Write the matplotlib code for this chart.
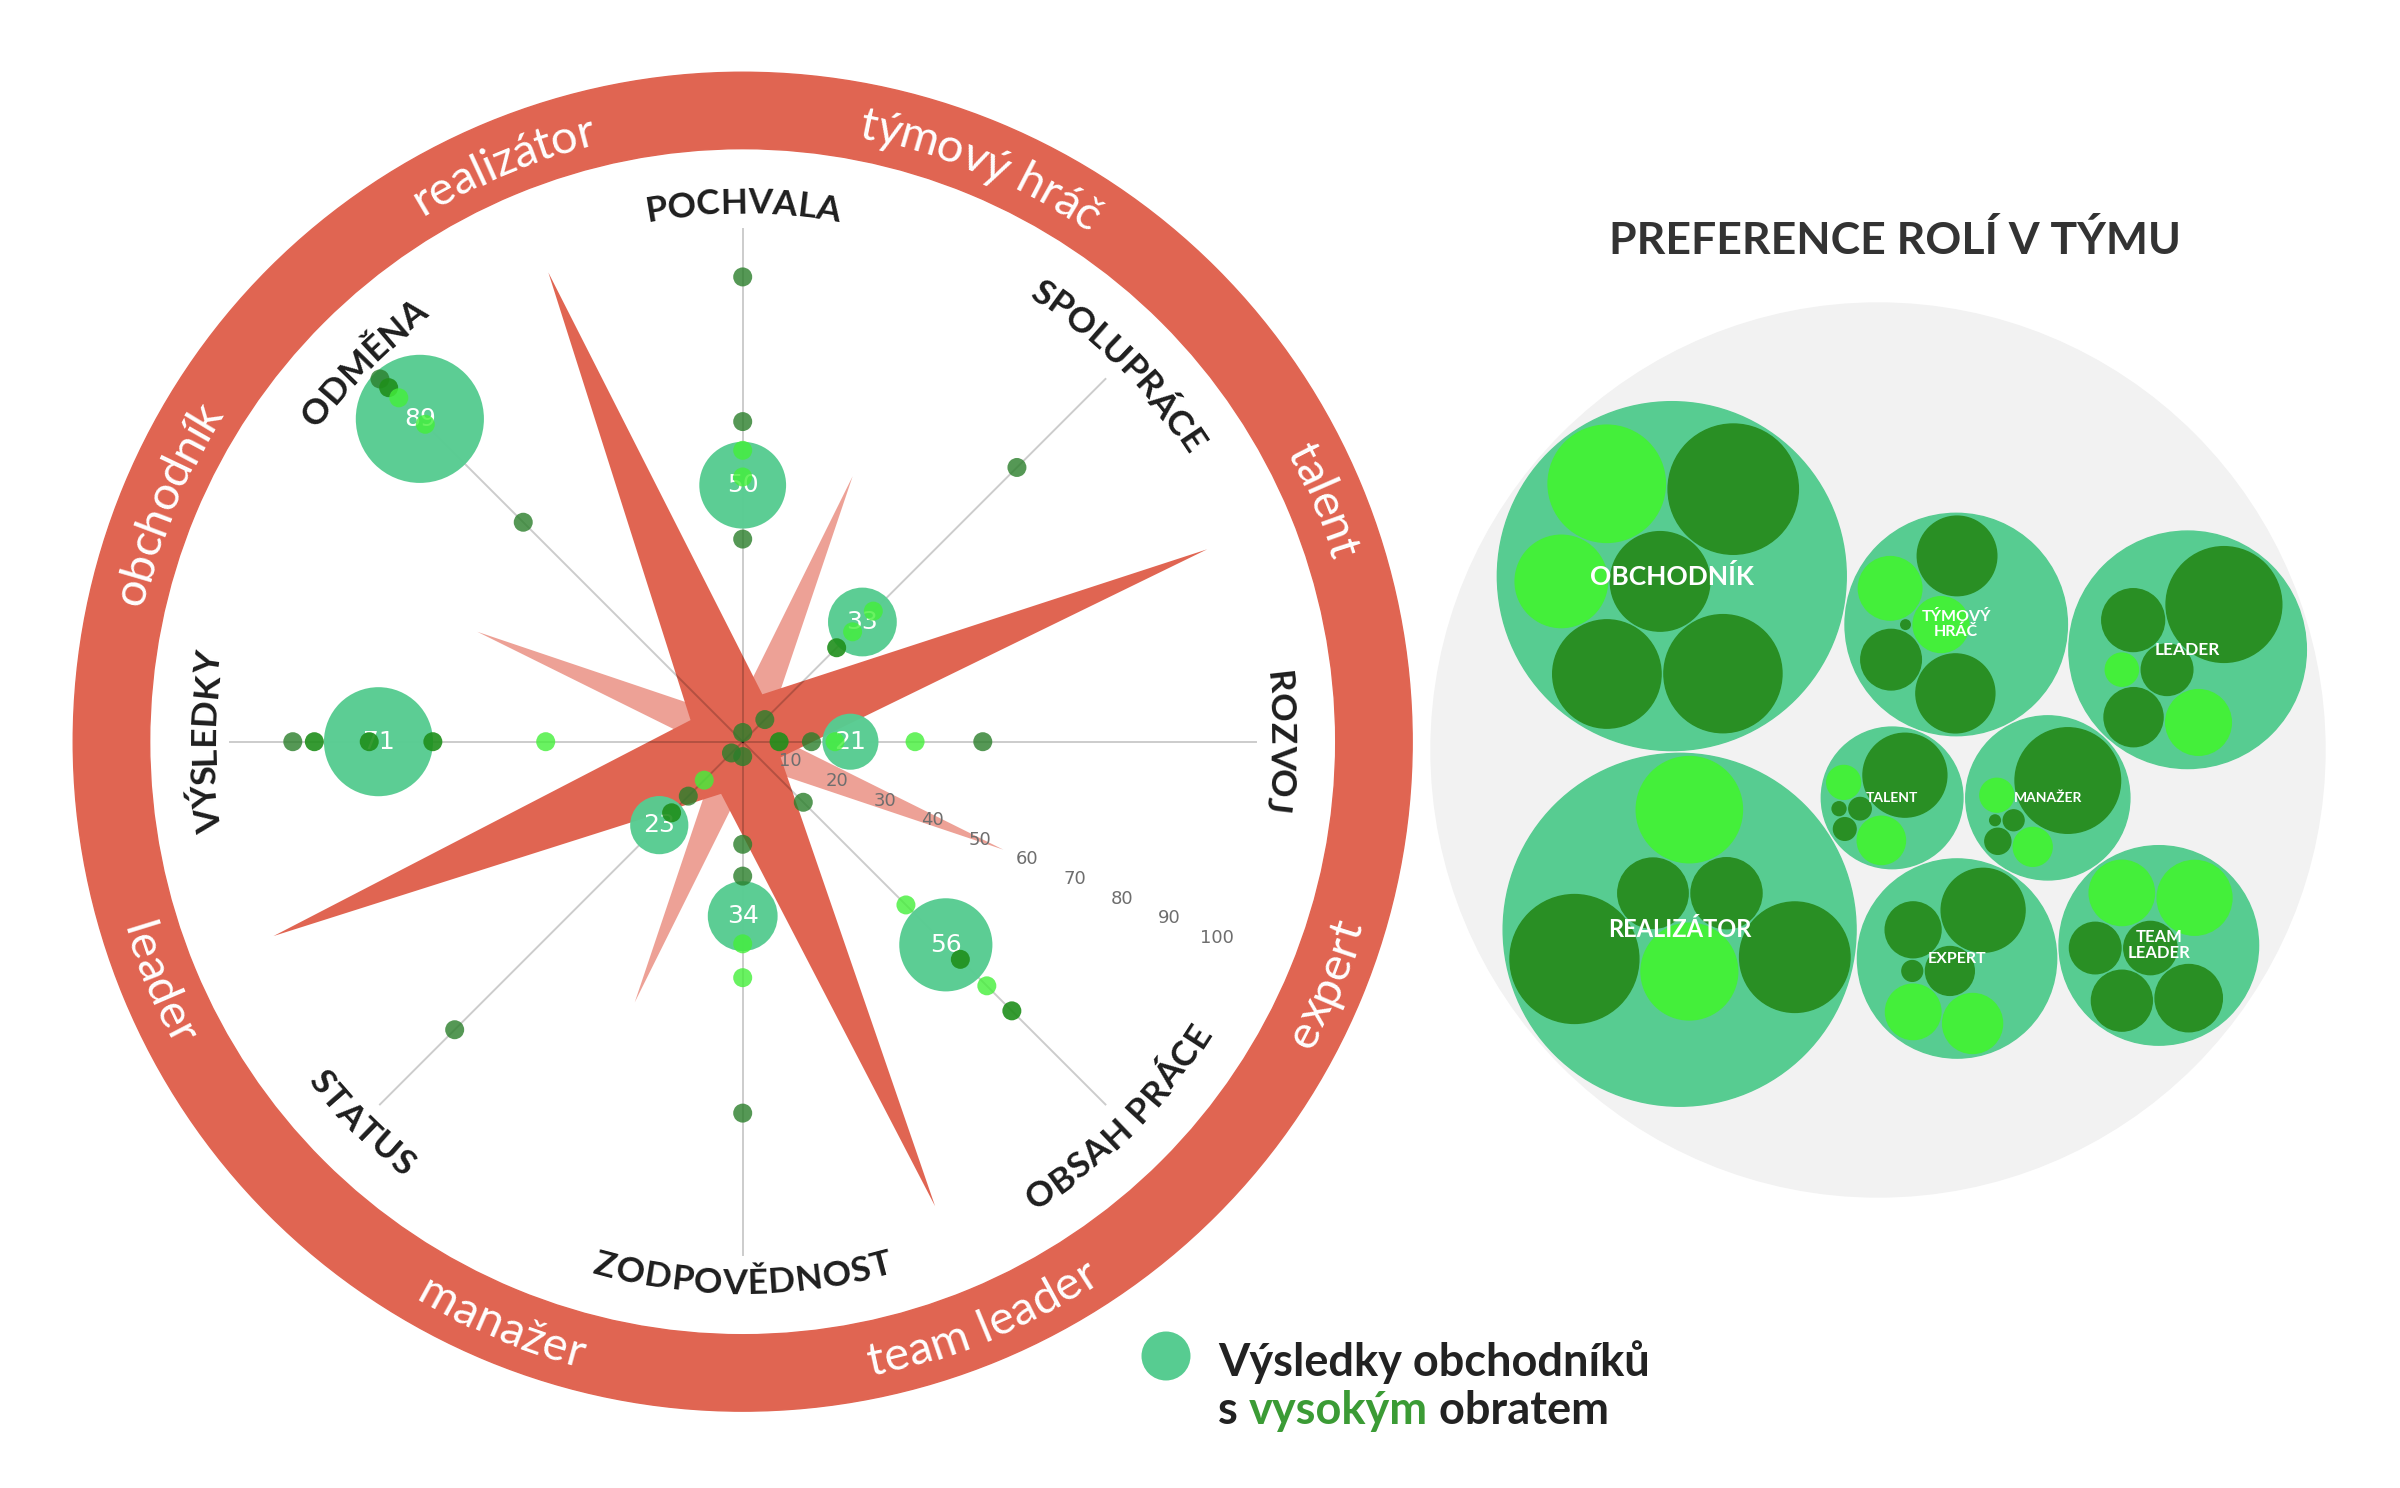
import numpy as np
import matplotlib
matplotlib.use('Agg')
import matplotlib.pyplot as plt
from matplotlib.patches import Circle, Wedge, Polygon
from matplotlib.font_manager import FontProperties, findfont
from matplotlib.ft2font import FT2Font, LOAD_NO_HINTING

FONT = ['Lato', 'DejaVu Sans']
plt.rcParams['font.family'] = FONT

# radar: 8 motivation axes, clockwise from the top
AXES = ['POCHVALA', 'SPOLUPRÁCE', 'ROZVOJ', 'OBSAH PRÁCE',
        'ZODPOVĚDNOST', 'STATUS', 'VÝSLEDKY', 'ODMĚNA']
HIGH_TURNOVER = [50, 33, 21, 56, 34, 23, 71, 89]
DOTS_MUTED = [[1.8, 39.5, 62.4, 90.6], [6.1, 75.6], [13.4, 46.8], [16.7],
              [2.9, 20, 26.2, 72.4], [3.1, 15, 79.4], [87.7], [60.5, 100]]
DOTS_DARK = [[], [25.9], [7.1], [60, 74.2], [], [19.6], [83.5, 72.8, 60.4], [97.6]]
DOTS_BRIGHT = [[51.6, 56.8], [30.3, 36], [18, 33.6], [45, 67.3],
               [39.4, 46], [10.6], [38.4], [94.8, 87.5]]
R_TICKS = [10, 20, 30, 40, 50, 60, 70, 80, 90, 100]

# team roles, sitting between the axes
ROLES = ['realizátor', 'týmový hráč', 'talent', 'expert',
         'team leader', 'manažer', 'leader', 'obchodník']
ROLE_MAIN = [99, 10, 98, 8, 98, 11, 99, 11]
ROLE_SECOND = [5, 56, 5, 55, 5, 55, 5, 56]

# circle packing: role groups, leaf sizes and tone (d = dark, b = bright)
GROUP_NAMES = ['REALIZÁTOR', 'TÝMOVÝ\nHRÁČ', 'TALENT', 'EXPERT',
               'TEAM\nLEADER', 'MANAŽER', 'LEADER', 'OBCHODNÍK']
LEAF_VALUES = [[54, 55, 102, 123, 133, 181],
               [1, 34, 40, 44, 68, 69],
               [2.1, 5.5, 5.6, 12.5, 25.4, 76.7],
               [4.7, 26, 33.5, 34, 39.2, 76.7],
               [28.9, 30.9, 40.4, 46.5, 49.3, 61],
               [1.25, 4.75, 7.4, 12.5, 16.5, 121.4],
               [12, 29, 38, 43, 47, 146],
               [93, 108, 128, 150, 152, 185]]
LEAF_TONES = [['d', 'd', 'b', 'b', 'd', 'd'],
              ['d', 'b', 'd', 'b', 'd', 'd'],
              ['d', 'd', 'd', 'b', 'b', 'd'],
              ['d', 'd', 'b', 'd', 'b', 'd'],
              ['d', 'd', 'd', 'b', 'd', 'b'],
              ['d', 'd', 'd', 'b', 'b', 'd'],
              ['b', 'd', 'd', 'd', 'b', 'd'],
              ['b', 'd', 'd', 'b', 'd', 'd']]
LABEL_SIZES = {'REALIZÁTOR': 17, 'TÝMOVÝ\nHRÁČ': 11.5, 'TALENT': 10, 'EXPERT': 11.5,
               'TEAM\nLEADER': 12, 'MANAŽER': 10, 'LEADER': 12.5, 'OBCHODNÍK': 19}

RED = '#E06552'
RED_LIGHT = '#EDA196'
MID_GREEN = '#57CC91'
DARK_GREEN = '#298F24'
BRIGHT_GREEN = '#44EF3A'


# ---- d3-style circle packing ----
class Node:
    def __init__(self, c):
        self.c = c
        self.next = None
        self.prev = None


def place(b, a, c):
    dx, dy = b[0] - a[0], b[1] - a[1]
    d2 = dx * dx + dy * dy
    if d2:
        a2 = (a[2] + c[2]) ** 2
        b2 = (b[2] + c[2]) ** 2
        if a2 > b2:
            x = (d2 + b2 - a2) / (2 * d2)
            y = np.sqrt(max(0, b2 / d2 - x * x))
            c[0] = b[0] - x * dx - y * dy
            c[1] = b[1] - x * dy + y * dx
        else:
            x = (d2 + a2 - b2) / (2 * d2)
            y = np.sqrt(max(0, a2 / d2 - x * x))
            c[0] = a[0] + x * dx - y * dy
            c[1] = a[1] + x * dy + y * dx
    else:
        c[0] = a[0] + c[2]
        c[1] = a[1]


def intersects(a, b):
    dr = a[2] + b[2] - 1e-6
    dx, dy = b[0] - a[0], b[1] - a[1]
    return dr > 0 and dr * dr > dx * dx + dy * dy


def score(node):
    a, b = node.c, node.next.c
    ab = a[2] + b[2]
    dx = (a[0] * b[2] + b[0] * a[2]) / ab
    dy = (a[1] * b[2] + b[1] * a[2]) / ab
    return dx * dx + dy * dy


def basis2(a, b):
    x21, y21, r21 = b[0] - a[0], b[1] - a[1], b[2] - a[2]
    l = np.hypot(x21, y21)
    return ((a[0] + b[0] + x21 / l * r21) / 2, (a[1] + b[1] + y21 / l * r21) / 2, (l + a[2] + b[2]) / 2)


def basis3(a, b, c):
    x1, y1, r1 = a
    x2, y2, r2 = b
    x3, y3, r3 = c
    a2, a3, b2, b3 = x1 - x2, x1 - x3, y1 - y2, y1 - y3
    c2, c3 = r2 - r1, r3 - r1
    d1 = x1 * x1 + y1 * y1 - r1 * r1
    d2 = d1 - x2 * x2 - y2 * y2 + r2 * r2
    d3 = d1 - x3 * x3 - y3 * y3 + r3 * r3
    ab = a3 * b2 - a2 * b3
    if abs(ab) < 1e-12:
        return None
    xa = (b2 * d3 - b3 * d2) / (ab * 2) - x1
    xb = (b3 * c2 - b2 * c3) / ab
    ya = (a3 * d2 - a2 * d3) / (ab * 2) - y1
    yb = (a2 * c3 - a3 * c2) / ab
    A = xb * xb + yb * yb - 1
    B = 2 * (r1 + xa * xb + ya * yb)
    C = xa * xa + ya * ya - r1 * r1
    disc = B * B - 4 * A * C
    if abs(A) > 1e-6:
        if disc < 0:
            return None
        r = -(B + np.sqrt(disc)) / (2 * A)
    else:
        r = -C / B
    return (x1 + xa + xb * r, y1 + ya + yb * r, r)


def encloses(e, c):
    dr = e[2] - c[2] + max(e[2], c[2], 1) * 1e-6
    return dr > 0 and dr * dr > (c[0] - e[0]) ** 2 + (c[1] - e[1]) ** 2


def enclose(circles):
    cands = []
    n = len(circles)
    for i in range(n):
        cands.append(tuple(circles[i]))
        for j in range(i + 1, n):
            cands.append(basis2(circles[i], circles[j]))
            for k in range(j + 1, n):
                b3 = basis3(circles[i], circles[j], circles[k])
                if b3 is not None and np.all(np.isfinite(b3)) and b3[2] > 0:
                    cands.append(b3)
    best = None
    for e in cands:
        if all(encloses(e, c) for c in circles) and (best is None or e[2] < best[2]):
            best = e
    return best


def pack_siblings(circles):
    n = len(circles)
    a = circles[0]
    a[0], a[1] = 0.0, 0.0
    if n == 1:
        return a[2]
    b = circles[1]
    a[0], b[0], b[1] = -b[2], a[2], 0.0
    if n == 2:
        return a[2] + b[2]
    place(b, a, circles[2])
    na, nb, nc = Node(a), Node(b), Node(circles[2])
    na.next = nc.prev = nb
    nb.next = na.prev = nc
    nc.next = nb.prev = na
    i = 3
    while i < n:
        c = circles[i]
        place(na.c, nb.c, c)
        cn = Node(c)
        j, k = nb.next, na.prev
        sj, sk = nb.c[2], na.c[2]
        retry = False
        while True:
            if sj <= sk:
                if intersects(j.c, cn.c):
                    nb = j
                    na.next, nb.prev = nb, na
                    retry = True
                    break
                sj += j.c[2]
                j = j.next
            else:
                if intersects(k.c, cn.c):
                    na = k
                    na.next, nb.prev = nb, na
                    retry = True
                    break
                sk += k.c[2]
                k = k.prev
            if j is k.next:
                break
        if retry:
            continue
        cn.prev, cn.next = na, nb
        na.next = cn
        nb.prev = cn
        nb = cn
        aa = score(na)
        node = cn
        while True:
            node = node.next
            if node is nb:
                break
            ca = score(node)
            if ca < aa:
                na, aa = node, ca
        nb = na.next
        i += 1
    e = enclose(circles)
    for c in circles:
        c[0] -= e[0]
        c[1] -= e[1]
    return e[2]


def pack_level(radii, pad):
    circles = [[0.0, 0.0, r + pad] for r in radii]
    e = pack_siblings(circles)
    for c in circles:
        c[2] -= pad
    return circles, e + pad


# ---- figure ----
W, H = 2400, 1488
fig = plt.figure(figsize=(W / 100, H / 100), dpi=100)
fig.patch.set_facecolor('white')

CX, CY = 742.7, 741.7
LIM = 134
UNIT = 5.13
half = LIM * UNIT
ax = fig.add_axes([(CX - half) / W, (H - CY - half) / H, 2 * half / W, 2 * half / H])
ax.set_xlim(-LIM, LIM)
ax.set_ylim(-LIM, LIM)
ax.set_aspect('equal')
ax.axis('off')


def advances(text, fp):
    font = FT2Font(findfont(fp))
    font.set_size(fp.get_size_in_points(), 100)
    out = []
    for ch in text:
        g = font.load_char(ord(ch), flags=LOAD_NO_HINTING)
        out.append(g.linearHoriAdvance / 65536)
    return out


def curved_text(text, ang, radius, size, weight, color, top, spacing=0.0):
    fp = FontProperties(family=FONT, size=size, weight=weight)
    em = size * 100 / 72 / UNIT
    widths = [w / UNIT + spacing * em for w in advances(text, fp)]
    total = sum(widths)
    base = radius - 0.34 * em if top else radius + 0.34 * em
    sign = -1 if top else 1
    start = np.radians(ang) - sign * total / (2 * radius)
    pos = 0.0
    for ch, w in zip(text, widths):
        th = start + sign * (pos + w / 2) / radius
        pos += w
        if ch == ' ':
            continue
        rot = np.degrees(th) - 90 if top else np.degrees(th) + 90
        ax.text(base * np.cos(th), base * np.sin(th), ch, fontproperties=fp, color=color,
                rotation=rot, rotation_mode='anchor', ha='center', va='baseline', zorder=9)


axis_ang = np.radians(90 - 45 * np.arange(len(AXES)))
role_ang = np.radians(112.5 - 45 * np.arange(len(ROLES)))

# outer ring with the role names
ax.add_patch(Wedge((0, 0), 130.5, 0, 360, width=130.5 - 115.6, color=RED, zorder=1))
for i, role in enumerate(ROLES):
    top = np.sin(role_ang[i]) > 0
    curved_text(role, np.degrees(role_ang[i]), 123.0, 34, 'normal', 'white', top)

# role stars
for vals, col, z in [(ROLE_SECOND, RED_LIGHT, 2), (ROLE_MAIN, RED, 3)]:
    v = np.array(vals)
    pts = np.column_stack([v * np.cos(role_ang), v * np.sin(role_ang)])
    ax.add_patch(Polygon(pts, closed=True, facecolor=col, edgecolor='none', zorder=z))

# spokes
for a in axis_ang:
    ax.plot([0, 100 * np.cos(a)], [0, 100 * np.sin(a)], color='black', alpha=0.2, lw=1.4, zorder=4)

# axis names
for i, name in enumerate(AXES):
    top = np.sin(axis_ang[i]) > -1e-9
    curved_text(name, np.degrees(axis_ang[i]), 105.3, 25.5, 'bold', '#1E1E1E', top, spacing=0.01)

# radial tick labels
tick_a = np.radians(-22.5)
for t in R_TICKS:
    ax.text(t * np.cos(tick_a), t * np.sin(tick_a), str(t), family='DejaVu Sans', fontsize=13,
            color='#6E6E6E', ha='center', va='center', zorder=8)

# high turnover bubbles
hv = np.array(HIGH_TURNOVER, dtype=float)
bub_px = 16.9 + 0.53 * hv
ax.scatter(hv * np.cos(axis_ang), hv * np.sin(axis_ang), s=(2 * bub_px * 0.72) ** 2,
           color=MID_GREEN, alpha=0.97, edgecolors='none', zorder=5)
for i, v in enumerate(HIGH_TURNOVER):
    ax.text(v * np.cos(axis_ang[i]), v * np.sin(axis_ang[i]), str(v), family='DejaVu Sans',
            fontsize=18, color='white', ha='center', va='center', zorder=6)

# individual results
dot_s = (2 * 9.5 * 0.72) ** 2
for series, col, al in [(DOTS_MUTED, '#2B7F2B', 0.8), (DOTS_DARK, '#1F8F1B', 0.9),
                        (DOTS_BRIGHT, BRIGHT_GREEN, 0.8)]:
    xs, ys = [], []
    for i, vals in enumerate(series):
        for v in vals:
            xs.append(v * np.cos(axis_ang[i]))
            ys.append(v * np.sin(axis_ang[i]))
    ax.scatter(xs, ys, s=dot_s, color=col, alpha=al, edgecolors='none', zorder=7)

# ---- circle packing ----
groups = sorted(zip(GROUP_NAMES, LEAF_VALUES, LEAF_TONES), key=lambda g: sum(g[1]))
leaf_sets = []
for name, vals, tones in groups:
    order = sorted(range(len(vals)), key=lambda k: vals[k])
    leaf_sets.append(([np.sqrt(vals[k]) for k in order], [tones[k] for k in order]))

ROOT_R_PX = 447
ROOT_CX, ROOT_CY = 1878, 750
g_r1 = [pack_level(r, 0)[1] for r, _ in leaf_sets]
root1 = pack_level(g_r1, 0)[1]
pad = 3.0 * root1 / (2 * ROOT_R_PX)
leaf_layout, g_r2 = [], []
for r, _ in leaf_sets:
    circ, e = pack_level(r, pad)
    leaf_layout.append(circ)
    g_r2.append(e)
g_layout, root_r = pack_level(g_r2, pad)
k = 1.0 / root_r

ax2_half = ROOT_R_PX * 1.01
ax2 = fig.add_axes([(ROOT_CX - ax2_half) / W, (H - ROOT_CY - ax2_half) / H,
                    2 * ax2_half / W, 2 * ax2_half / H])
lim2 = 1.01
ax2.set_xlim(-lim2, lim2)
ax2.set_ylim(lim2, -lim2)
ax2.set_aspect('equal')
ax2.axis('off')
ax2.add_patch(Circle((0, 0), 1.0, color='#F2F2F2', zorder=1))
for gi, (name, _, _) in enumerate(groups):
    gx, gy, gr = (g_layout[gi][0] * k, g_layout[gi][1] * k, g_r2[gi] * k)
    ax2.add_patch(Circle((gx, gy), gr, color=MID_GREEN, zorder=2))
    for c, tone in zip(leaf_layout[gi], leaf_sets[gi][1]):
        ax2.add_patch(Circle((gx + c[0] * k, gy + c[1] * k), c[2] * k,
                             color=DARK_GREEN if tone == 'd' else BRIGHT_GREEN, zorder=3))
    ax2.text(gx, gy, name, fontsize=LABEL_SIZES[name], fontweight='bold', color='white',
             ha='center', va='center', linespacing=1.0, zorder=4)

# ---- title and legend ----
ov = fig.add_axes([0, 0, 1, 1])
ov.set_xlim(0, W)
ov.set_ylim(H, 0)
ov.axis('off')
ov.patch.set_alpha(0)
ov.text(1895, 240, 'PREFERENCE ROLÍ V TÝMU', fontsize=32, fontweight='bold', color='#333333',
        ha='center', va='center')
ov.scatter([1166], [1356], s=(2 * 24.5 * 0.72) ** 2, color=MID_GREEN, edgecolors='none')
ov.text(1218, 1376, 'Výsledky obchodníků', fontsize=32.5, fontweight='bold', color='#222222',
        ha='left', va='baseline')
t1 = ov.text(1218, 1424, 's ', fontsize=32.5, fontweight='bold', color='#222222',
             ha='left', va='baseline')
t2 = ov.annotate('vysokým', xy=(1, 0), xycoords=t1, fontsize=32.5, fontweight='bold',
                 color='#3B9B35', ha='left', va='bottom')
ov.annotate(' obratem', xy=(1, 0), xycoords=t2, fontsize=32.5, fontweight='bold',
            color='#222222', ha='left', va='bottom')

fig.savefig('out.png', dpi=100, facecolor='white')
